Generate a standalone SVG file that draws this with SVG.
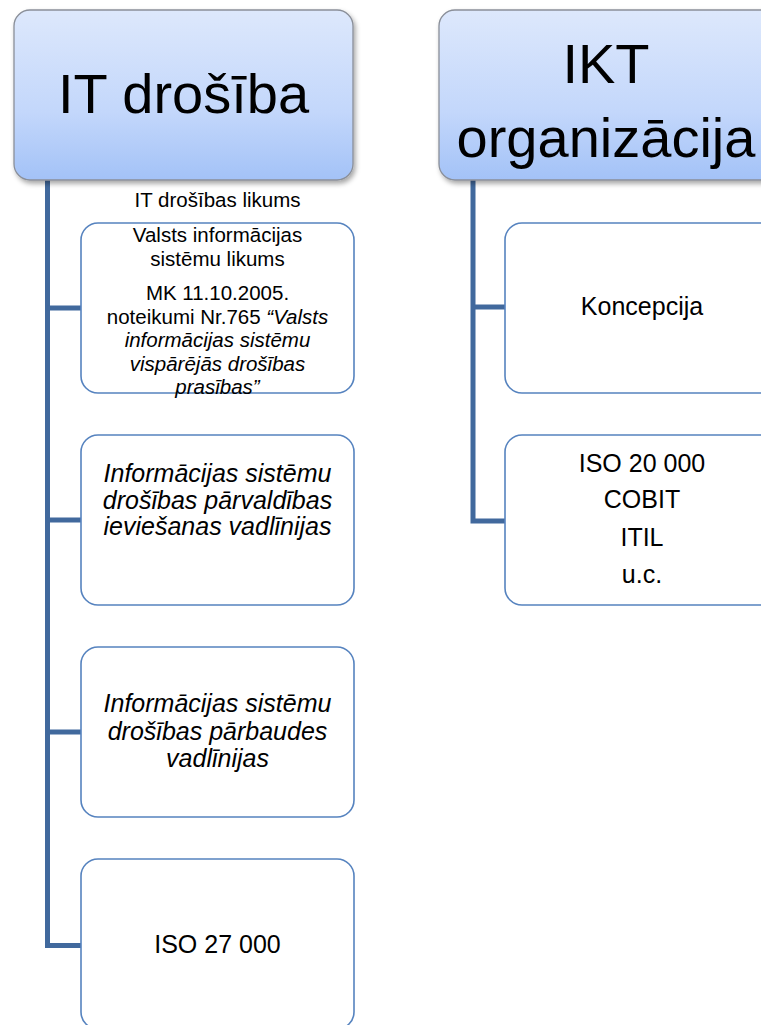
<svg xmlns="http://www.w3.org/2000/svg" width="761" height="1025" viewBox="0 0 761 1025">
<defs>
<linearGradient id="hg" x1="0" y1="0" x2="0" y2="1">
<stop offset="0" stop-color="#dde8fc"/>
<stop offset="0.6" stop-color="#c3d7fb"/>
<stop offset="1" stop-color="#a3c2f7"/>
</linearGradient>
<filter id="sh" x="-10%" y="-10%" width="130%" height="130%">
<feDropShadow dx="2" dy="3" stdDeviation="2.5" flood-color="#000" flood-opacity="0.35"/>
</filter>
</defs>
<style>
.hdr{fill:url(#hg);stroke:#8a8f99;stroke-width:1.3;filter:url(#sh)}
.box{fill:#fff;stroke:#5683bf;stroke-width:1.6}
.con{fill:none;stroke:#41699d;stroke-width:5;stroke-linejoin:miter}
text{font-family:"Liberation Sans",Arial,sans-serif;fill:#000;text-anchor:middle}
.big{font-size:56px}
.s{font-size:20.5px}
.m{font-size:25px}
.i{font-style:italic}
</style>
<rect width="761" height="1025" fill="#fff"/>
<g id="connectors">
<path class="con" d="M47.5 180 V945.5 H81"/>
<path class="con" d="M47.5 308 H81 M47.5 520 H81 M47.5 732 H81"/>
<path class="con" d="M473 180 V521 H505"/>
<path class="con" d="M473 307 H505"/>
</g>
<g id="hdr-it">
<rect class="hdr" x="14" y="10" width="339" height="170" rx="16"/>
<text class="big" x="183.5" y="113">IT drošība</text>
</g>
<g id="hdr-ikt">
<rect class="hdr" x="439" y="10" width="339" height="170" rx="16"/>
<text class="big" x="606" y="83">IKT</text>
<text class="big" x="606" y="157">organizācija</text>
</g>
<g id="box-it1">
<rect class="box" x="81" y="223" width="273" height="170" rx="17"/>
<text class="s" x="217.5" y="207">IT drošības likums</text>
<text class="s" x="217.5" y="242">Valsts informācijas</text>
<text class="s" x="217.5" y="265.5">sistēmu likums</text>
<text class="s" x="217.5" y="300">MK 11.10.2005.</text>
<text class="s" x="217.5" y="323.5">noteikumi Nr.765 <tspan class="i">“Valsts</tspan></text>
<text class="s i" x="217.5" y="347">informācijas sistēmu</text>
<text class="s i" x="217.5" y="370.5">vispārējās drošības</text>
<text class="s i" x="217.5" y="394">prasības”</text>
</g>
<g id="box-it2">
<rect class="box" x="81" y="435" width="273" height="170" rx="17"/>
<text class="m i" x="217.5" y="482">Informācijas sistēmu</text>
<text class="m i" x="217.5" y="508.5">drošības pārvaldības</text>
<text class="m i" x="217.5" y="535">ieviešanas vadlīnijas</text>
</g>
<g id="box-it3">
<rect class="box" x="81" y="647" width="273" height="170" rx="17"/>
<text class="m i" x="217.5" y="712">Informācijas sistēmu</text>
<text class="m i" x="217.5" y="739.5">drošības pārbaudes</text>
<text class="m i" x="217.5" y="767">vadlīnijas</text>
</g>
<g id="box-it4">
<rect class="box" x="81" y="859" width="273" height="170" rx="17"/>
<text class="m" x="217.5" y="953">ISO 27 000</text>
</g>
<g id="box-ikt1">
<rect class="box" x="505" y="223" width="274" height="170" rx="17"/>
<text class="m" x="642" y="315">Koncepcija</text>
</g>
<g id="box-ikt2">
<rect class="box" x="505" y="435" width="274" height="170" rx="17"/>
<text class="m" x="642" y="472">ISO 20 000</text>
<text class="m" x="642" y="508">COBIT</text>
<text class="m" x="642" y="546">ITIL</text>
<text class="m" x="642" y="583">u.c.</text>
</g>
</svg>
